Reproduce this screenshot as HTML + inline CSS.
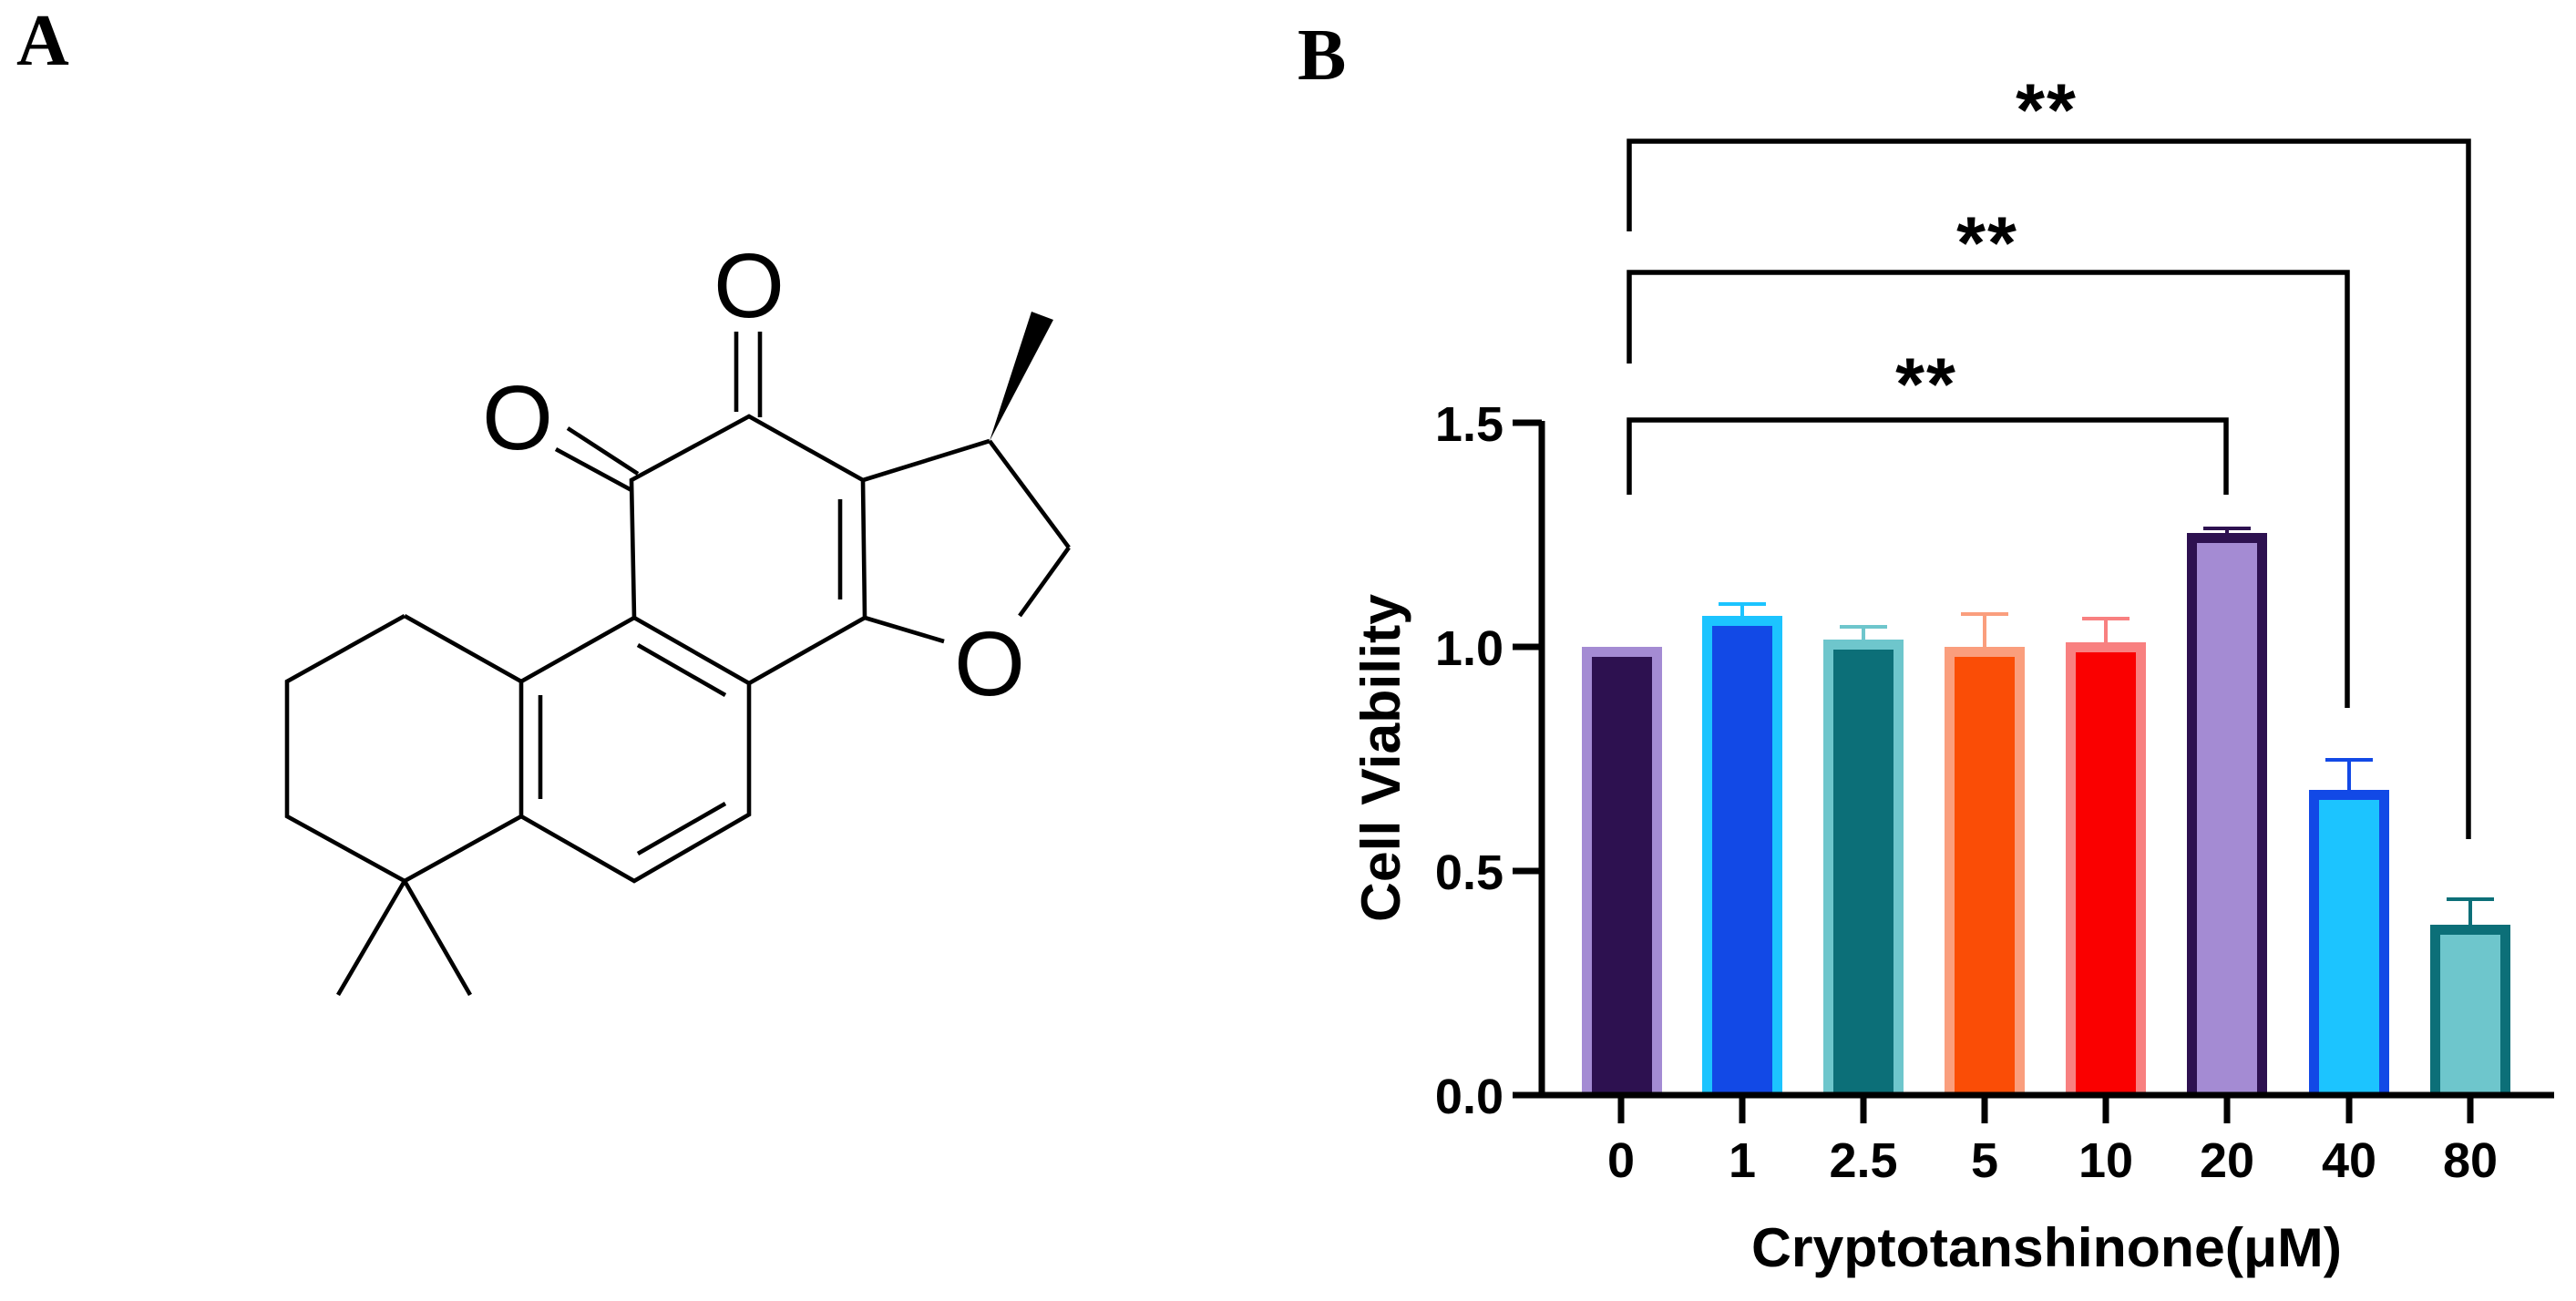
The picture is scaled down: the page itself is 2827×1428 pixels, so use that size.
<!DOCTYPE html>
<html><head><meta charset="utf-8"><style>
html,body{margin:0;padding:0;background:#fff;}
svg{display:block;}
</style></head><body>
<svg width="2827" height="1428" viewBox="0 0 2827 1428" xmlns="http://www.w3.org/2000/svg">
<rect width="2827" height="1428" fill="#fff"/>
<text x="18" y="71" font-family="Liberation Serif, serif" font-weight="bold" font-size="80">A</text>
<text x="1424" y="87" font-family="Liberation Serif, serif" font-weight="bold" font-size="80">B</text>

<!-- molecule -->
<g stroke="#000" stroke-width="4.6" fill="none" stroke-linecap="butt" stroke-linejoin="miter">
<polyline points="444,676 315,748 315,896 444,967 572,896 572,748 444,676"/>
<polyline points="572,748 696,678 822,750 822,894 696,967 572,896"/>
<polyline points="696,678 693,527 822,457 947,527 949,678 822,750"/>
<line x1="593" y1="763" x2="593" y2="877"/>
<line x1="700" y1="708" x2="796" y2="763"/>
<line x1="700" y1="937" x2="796" y2="882"/>
<line x1="922" y1="548" x2="922" y2="658"/>
<line x1="444" y1="967" x2="371" y2="1092"/>
<line x1="444" y1="967" x2="516" y2="1092"/>
<line x1="808" y1="364" x2="808" y2="452"/>
<line x1="834" y1="364" x2="834" y2="458"/>
<line x1="623" y1="470" x2="700" y2="520"/>
<line x1="610" y1="493" x2="693" y2="538"/>
<line x1="947" y1="527" x2="1086" y2="484"/>
<line x1="1086" y1="484" x2="1173" y2="601"/>
<line x1="1173" y1="601" x2="1119" y2="676"/>
<line x1="949" y1="678" x2="1036" y2="704"/>
</g>
<polygon points="1086,484 1132,342 1156,351" fill="#000"/>
<g font-family="Liberation Sans, sans-serif" font-size="100" text-anchor="middle" fill="#000">
<text x="822" y="348">O</text>
<text x="568" y="493">O</text>
<text x="1086" y="763">O</text>
</g>

<!-- chart -->
<g font-family="Liberation Sans, sans-serif" font-weight="bold" fill="#000">
<g>
<rect x="1736" y="710" width="88" height="492" fill="#A48BD3"/><rect x="1747" y="721" width="66" height="481" fill="#2D1150"/>
<rect x="1868" y="676" width="88" height="526" fill="#1CC4FF"/><rect x="1879" y="687" width="66" height="515" fill="#1249E6"/>
<rect x="2001" y="702" width="88" height="500" fill="#6EC6CC"/><rect x="2012" y="713" width="66" height="489" fill="#0C6F78"/>
<rect x="2134" y="710" width="88" height="492" fill="#FA9E7D"/><rect x="2145" y="721" width="66" height="481" fill="#FA4D06"/>
<rect x="2267" y="705" width="88" height="497" fill="#F88080"/><rect x="2278" y="716" width="66" height="486" fill="#FA0000"/>
<rect x="2400" y="585" width="88" height="617" fill="#2D1150"/><rect x="2411" y="596" width="66" height="606" fill="#A48BD3"/>
<rect x="2534" y="867" width="88" height="335" fill="#1249E6"/><rect x="2545" y="878" width="66" height="324" fill="#1CC4FF"/>
<rect x="2667" y="1015" width="88" height="187" fill="#0C6F78"/><rect x="2678" y="1026" width="66" height="176" fill="#6EC6CC"/>
</g>
<g stroke-width="4" fill="none">
<path d="M1912 676V663M1886 663H1938" stroke="#1CC4FF"/>
<path d="M2045 702V688M2019 688H2071" stroke="#6EC6CC"/>
<path d="M2178 710V674M2152 674H2204" stroke="#FA9E7D"/>
<path d="M2311 705V679M2285 679H2337" stroke="#F88080"/>
<path d="M2444 585V580M2418 580H2470" stroke="#2D1150"/>
<path d="M2578 867V834M2552 834H2604" stroke="#1249E6"/>
<path d="M2711 1015V987M2685 987H2737" stroke="#0C6F78"/>
</g>
<g stroke="#000" stroke-width="7" fill="none">
<path d="M1692 462V1202"/>
<path d="M1660 1202H2803"/>
<path d="M1660 464H1692M1660 710H1692M1660 956H1692"/>
<path d="M1779 1202V1233M1912 1202V1233M2045 1202V1233M2178 1202V1233M2311 1202V1233M2444 1202V1233M2578 1202V1233M2711 1202V1233"/>
</g>
<g font-size="54" text-anchor="end">
<text x="1650" y="1222">0.0</text>
<text x="1650" y="976">0.5</text>
<text x="1650" y="730">1.0</text>
<text x="1650" y="484">1.5</text>
</g>
<g font-size="54" text-anchor="middle">
<text x="1779" y="1292">0</text>
<text x="1912" y="1292">1</text>
<text x="2045" y="1292">2.5</text>
<text x="2178" y="1292">5</text>
<text x="2311" y="1292">10</text>
<text x="2444" y="1292">20</text>
<text x="2578" y="1292">40</text>
<text x="2711" y="1292">80</text>
</g>
<text x="1922" y="1390" font-size="60" textLength="648" lengthAdjust="spacingAndGlyphs">Cryptotanshinone(μM)</text>
<text transform="translate(1536,832) rotate(-90)" font-size="60" text-anchor="middle" textLength="360" lengthAdjust="spacingAndGlyphs">Cell Viability</text>
<g stroke="#000" stroke-width="5.5" fill="none">
<path d="M1788 543V461H2443V543"/>
<path d="M1788 399V299H2576V777"/>
<path d="M1788 254V155H2709V921"/>
</g>
<g font-size="82" text-anchor="middle" letter-spacing="2">
<text x="2114" y="450">**</text>
<text x="2181" y="295">**</text>
<text x="2246" y="149">**</text>
</g>
</g>
</svg>
</body></html>
